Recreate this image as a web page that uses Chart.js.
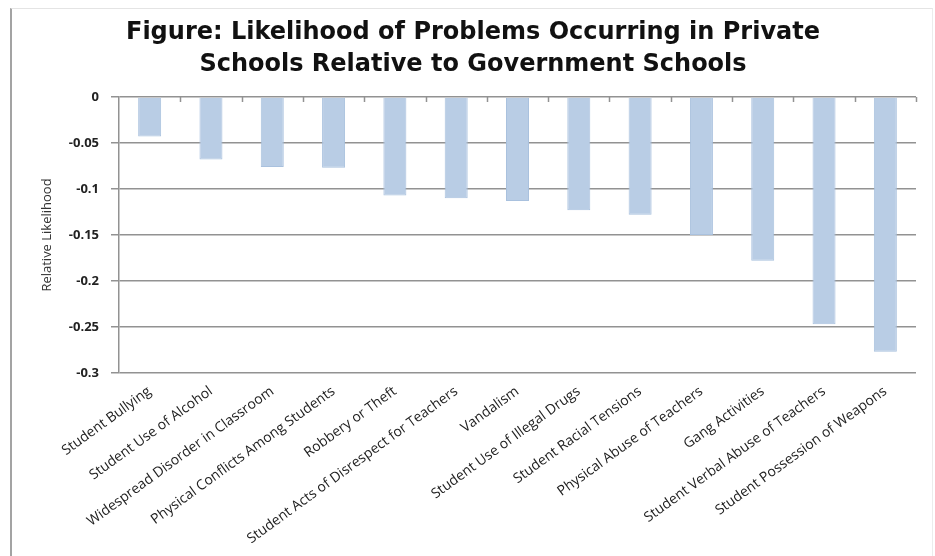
<!DOCTYPE html>
<html>
<head>
<meta charset="utf-8">
<script src="https://cdn.jsdelivr.net/npm/chart.js@4/dist/chart.umd.min.js"></script>
<style>
  html, body { margin: 0; padding: 0; background: #ffffff; }
  #wrap { position: relative; width: 935px; height: 556px; }
  #frame { position: absolute; left: 10px; top: 8px; width: 923px; height: 548px;
           border-left: 2px solid #a3a3a3; border-top: 1px solid #e4e4e4; border-right: 1px solid #ececec; box-sizing: border-box; }
  canvas { position: absolute; left: 0; top: 0; }
</style>
</head>
<body>
<div id="wrap">
  <div id="frame"></div>
  <canvas id="c" width="935" height="556"></canvas>
</div>
<script>
const categories = [
  "Student Bullying",
  "Student Use of Alcohol",
  "Widespread Disorder in Classroom",
  "Physical Conflicts Among Students",
  "Robbery or Theft",
  "Student Acts of Disrespect for Teachers",
  "Vandalism",
  "Student Use of Illegal Drugs",
  "Student Racial Tensions",
  "Physical Abuse of Teachers",
  "Gang Activities",
  "Student Verbal Abuse of Teachers",
  "Student Possession of Weapons"
];
const relativeLikelihood = [-0.043, -0.068, -0.076, -0.077, -0.107, -0.110, -0.113, -0.123, -0.128, -0.150, -0.178, -0.247, -0.277];
const yTickValues = [0, -0.05, -0.1, -0.15, -0.2, -0.25, -0.3];
const yTickLabels = ["0", "-0.05", "-0.1", "-0.15", "-0.2", "-0.25", "-0.3"];
const titleLines = ["Figure: Likelihood of Problems Occurring in Private", "Schools Relative to Government Schools"];
const yAxisTitle = "Relative Likelihood";

const GRID = '#929292';

const topTicks = {
  id: 'topTicks',
  afterDatasetsDraw(chart) {
    const xs = chart.scales.x, ys = chart.scales.y, ctx = chart.ctx;
    const y0 = ys.getPixelForValue(0);
    ctx.save();
    ctx.strokeStyle = GRID;
    ctx.lineWidth = 1.5;
    ctx.beginPath();
    for (let i = 1; i <= categories.length; i++) {
      const px = i < categories.length
        ? (xs.getPixelForValue(i - 1) + xs.getPixelForValue(i)) / 2
        : xs.right;
      ctx.moveTo(Math.round(px) + 0.5, y0);
      ctx.lineTo(Math.round(px) + 0.5, y0 + 5);
    }
    ctx.stroke();
    ctx.restore();
  }
};

new Chart(document.getElementById('c'), {
  type: 'bar',
  data: {
    labels: categories,
    datasets: [{
      data: relativeLikelihood,
      backgroundColor: '#b9cde5',
      borderColor: '#a9c1de',
      borderWidth: 1,
      categoryPercentage: 1,
      barPercentage: 0.375
    }]
  },
  options: {
    responsive: false,
    animation: false,
    layout: { padding: { left: 30, right: 19, top: 0, bottom: 0 } },
    plugins: {
      legend: { display: false },
      tooltip: { enabled: false },
      title: {
        display: true,
        text: titleLines,
        color: '#111111',
        font: { family: 'DejaVu Sans', size: 24, weight: 'bold', lineHeight: 1.333 },
        padding: { top: 17, bottom: 16 }
      }
    },
    scales: {
      x: {
        grid: { display: false, drawTicks: false },
        border: { display: false },
        ticks: {
          autoSkip: false,
          minRotation: 36,
          maxRotation: 36,
          padding: 10,
          color: '#222222',
          font: { family: 'Open Sans', size: 14 }
        },
        afterFit(scale) { scale.height = 183; }
      },
      y: {
        min: -0.3,
        max: 0,
        afterBuildTicks(scale) { scale.ticks = yTickValues.map(v => ({ value: v })); },
        grid: { color: GRID, lineWidth: 1.5, tickLength: 8, drawTicks: true },
        border: { color: GRID, width: 1.5 },
        ticks: {
          padding: 12,
          color: '#222222',
          font: { family: 'Open Sans', size: 13, weight: 'bold' },
          callback(value) {
            const idx = yTickValues.findIndex(v => Math.abs(v - value) < 1e-9);
            return idx >= 0 ? yTickLabels[idx] : '';
          }
        },
        title: {
          display: true,
          text: yAxisTitle,
          color: '#333333',
          font: { family: 'Open Sans', size: 13, lineHeight: 1.2 },
          padding: { top: 9, bottom: 0 }
        },
        afterFit(scale) { scale.width = 89; }
      }
    }
  },
  plugins: [topTicks]
});
</script>
</body>
</html>
